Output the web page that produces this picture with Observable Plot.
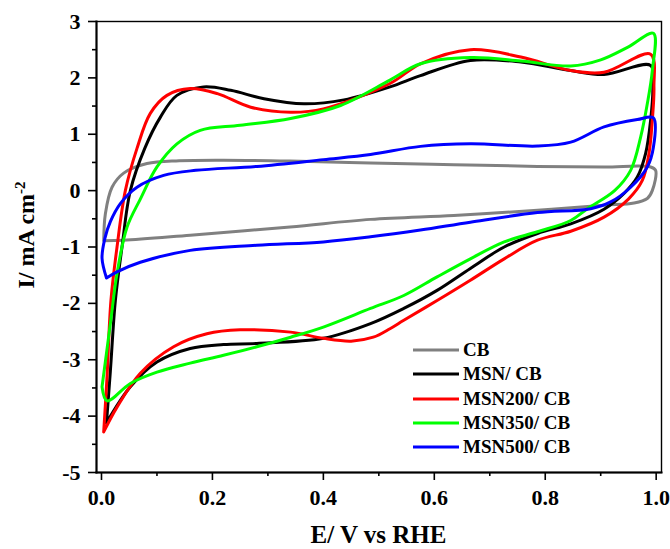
<!DOCTYPE html>
<html>
<head>
<meta charset="utf-8">
<script src="https://cdn.jsdelivr.net/npm/d3@7"></script>
<script src="https://cdn.jsdelivr.net/npm/@observablehq/plot@0.6"></script>
<style>
  html, body { margin: 0; padding: 0; background: white; }
  #wrap { position: relative; width: 670px; height: 549px; font-family: 'Liberation Serif', 'Times New Roman', serif; font-weight: bold; }
  #legend { position: absolute; left: 413px; top: 338px; font-size: 19px; line-height: 24.3px; color: black; }
  #legend .row { display: flex; align-items: center; height: 24.3px; white-space: nowrap; }
  #legend svg { width: 46px; height: 6px; margin-right: 4px; }
</style>
</head>
<body>
<div id="wrap"></div>
<script>
// ---- Data ----
const seriesNames = ["CB", "MSN/ CB", "MSN200/ CB", "MSN350/ CB", "MSN500/ CB"];
const seriesColors = ["#808080", "#000000", "#ff0000", "#00ff00", "#0000ff"];

const xTicks = [0.0, 0.2, 0.4, 0.6, 0.8, 1.0];
const xMinorTicks = [0.1, 0.3, 0.5, 0.7, 0.9];
const yTicks = [-5, -4, -3, -2, -1, 0, 1, 2, 3];
const yMinorTicks = [-4.5, -3.5, -2.5, -1.5, -0.5, 0.5, 1.5, 2.5];

// CB
const cbE = [0.004, 0.007, 0.019, 0.04, 0.082, 0.14, 0.22, 0.34, 0.485, 0.635, 0.786, 0.906, 0.99, 0.999, 0.993, 0.984, 0.96, 0.906, 0.786, 0.635, 0.485, 0.34, 0.16, 0.04, 0.004];
const cbI = [-0.89, -0.41, 0.06, 0.31, 0.48, 0.53, 0.54, 0.525, 0.49, 0.46, 0.43, 0.42, 0.42, 0.36, 0.0, -0.14, -0.22, -0.26, -0.35, -0.44, -0.51, -0.645, -0.79, -0.88, -0.89];

// MSN/ CB
const msnE = [0.009, 0.016, 0.025, 0.037, 0.052, 0.078, 0.106, 0.136, 0.184, 0.233, 0.293, 0.365, 0.437, 0.52, 0.575, 0.665, 0.756, 0.846, 0.906, 0.99, 0.994, 0.99, 0.981, 0.966, 0.942, 0.906, 0.846, 0.786, 0.726, 0.665, 0.605, 0.545, 0.485, 0.40, 0.28, 0.22, 0.16, 0.10, 0.052, 0.009];
const msnI = [-4.12, -3.2, -1.95, -1.0, 0.0, 0.75, 1.30, 1.69, 1.84, 1.78, 1.63, 1.54, 1.61, 1.84, 2.04, 2.31, 2.28, 2.13, 2.06, 2.22, 1.84, 1.25, 0.66, 0.24, -0.05, -0.33, -0.59, -0.76, -1.0, -1.38, -1.77, -2.09, -2.36, -2.62, -2.71, -2.73, -2.80, -3.04, -3.48, -4.12];

// MSN200/ CB
const msn200E = [0.004, 0.010, 0.017, 0.028, 0.043, 0.064, 0.088, 0.118, 0.16, 0.209, 0.269, 0.341, 0.40, 0.52, 0.575, 0.665, 0.756, 0.846, 0.906, 0.99, 0.996, 0.993, 0.987, 0.975, 0.95, 0.906, 0.846, 0.786, 0.726, 0.665, 0.605, 0.545, 0.52, 0.49, 0.45, 0.40, 0.341, 0.25, 0.19, 0.13, 0.07, 0.028, 0.004];
const msn200I = [-4.28, -3.3, -1.95, -1.0, 0.0, 0.75, 1.37, 1.69, 1.81, 1.72, 1.48, 1.39, 1.45, 1.90, 2.25, 2.50, 2.37, 2.13, 2.10, 2.42, 1.84, 1.25, 0.66, 0.18, -0.15, -0.47, -0.72, -0.88, -1.21, -1.59, -1.95, -2.30, -2.45, -2.60, -2.67, -2.62, -2.51, -2.47, -2.54, -2.77, -3.24, -3.84, -4.28];

// MSN350/ CB
const msn350E = [0.001, 0.016, 0.028, 0.046, 0.07, 0.10, 0.136, 0.178, 0.25, 0.341, 0.431, 0.52, 0.575, 0.665, 0.756, 0.846, 0.90, 0.95, 0.995, 0.993, 0.984, 0.972, 0.954, 0.925, 0.876, 0.846, 0.786, 0.726, 0.665, 0.605, 0.545, 0.485, 0.40, 0.341, 0.28, 0.22, 0.16, 0.10, 0.052, 0.01, 0.001];
const msn350I = [-3.48, -2.36, -1.47, -0.65, -0.15, 0.42, 0.83, 1.07, 1.16, 1.28, 1.51, 1.96, 2.25, 2.36, 2.30, 2.21, 2.32, 2.55, 2.79, 2.13, 1.54, 0.95, 0.36, 0.0, -0.32, -0.53, -0.73, -0.91, -1.21, -1.53, -1.86, -2.09, -2.42, -2.60, -2.77, -2.92, -3.06, -3.22, -3.42, -3.73, -3.48];

// MSN500/ CB
const msn500E = [0.009, 0.001, 0.006, 0.016, 0.034, 0.064, 0.112, 0.17, 0.28, 0.40, 0.485, 0.575, 0.665, 0.786, 0.846, 0.906, 0.966, 0.995, 0.995, 0.984, 0.954, 0.918, 0.882, 0.786, 0.665, 0.575, 0.485, 0.40, 0.28, 0.16, 0.07, 0.028, 0.009];
const msn500I = [-1.55, -1.2, -0.85, -0.55, -0.23, 0.06, 0.27, 0.36, 0.43, 0.55, 0.64, 0.785, 0.83, 0.79, 0.86, 1.13, 1.26, 1.29, 0.77, 0.42, 0.06, -0.2, -0.32, -0.39, -0.56, -0.70, -0.82, -0.91, -0.97, -1.06, -1.27, -1.44, -1.55];

const seriesE = [cbE, msnE, msn200E, msn350E, msn500E];
const seriesI = [cbI, msnI, msn200I, msn350I, msn500I];

const rows = seriesNames.flatMap((name, k) =>
  seriesE[k].map((e, i) => ({series: name, E: e, I: seriesI[k][i]}))
);

const serif = "'Liberation Serif', 'Times New Roman', serif";

const chart = Plot.plot({
  width: 670,
  height: 549,
  marginLeft: 96,
  marginRight: 9,
  marginTop: 21,
  marginBottom: 77,
  style: {fontFamily: serif, fontSize: "22px", fontWeight: "bold", background: "white", color: "black", overflow: "visible"},
  x: {domain: [-0.009, 1.0096]},
  y: {domain: [-5, 3]},
  color: {domain: seriesNames, range: seriesColors},
  marks: [
    Plot.line(rows, {x: "E", y: "I", z: "series", stroke: "series", strokeWidth: 3, curve: "catmull-rom", strokeLinejoin: "round"}),
    Plot.frame({stroke: "black", strokeWidth: 1.4}),
    Plot.frame({anchor: "left", stroke: "black", strokeWidth: 2}),
    Plot.frame({anchor: "bottom", stroke: "black", strokeWidth: 2}),
    Plot.axisX({ticks: xTicks, tickSize: 8, tickPadding: 9, strokeWidth: 1.6, tickFormat: d3.format(".1f"), label: null}),
    Plot.axisX({ticks: xMinorTicks, tickSize: 4, strokeWidth: 1.6, tickFormat: () => "", label: null}),
    Plot.axisY({ticks: yTicks, tickSize: 8, tickPadding: 8, strokeWidth: 1.6, tickFormat: d => String(d), label: null}),
    Plot.axisY({ticks: yMinorTicks, tickSize: 4, strokeWidth: 1.6, tickFormat: () => "", label: null})
  ]
});

// Axis titles
const svg = d3.select(chart);
svg.append("text")
  .attr("x", 378.5).attr("y", 543)
  .attr("text-anchor", "middle")
  .attr("font-family", serif).attr("font-weight", "bold").attr("font-size", 25)
  .attr("fill", "black")
  .text("E/ V vs RHE");

const yt = svg.append("text")
  .attr("transform", "translate(34,235) rotate(-90)")
  .attr("text-anchor", "middle")
  .attr("font-family", serif).attr("font-weight", "bold").attr("font-size", 24)
  .attr("fill", "black");
yt.append("tspan").text("I/ mA cm");
yt.append("tspan").attr("dy", -9).attr("font-size", 15).text("-2");

const wrap = document.getElementById("wrap");
wrap.appendChild(chart);

// Legend
const legend = document.createElement("div");
legend.id = "legend";
seriesNames.forEach((name, k) => {
  const row = document.createElement("div");
  row.className = "row";
  row.innerHTML = `<svg viewBox="0 0 46 6"><line x1="0" y1="3" x2="46" y2="3" stroke="${seriesColors[k]}" stroke-width="3.2"/></svg><span>${name}</span>`;
  legend.appendChild(row);
});
wrap.appendChild(legend);
</script>
</body>
</html>
